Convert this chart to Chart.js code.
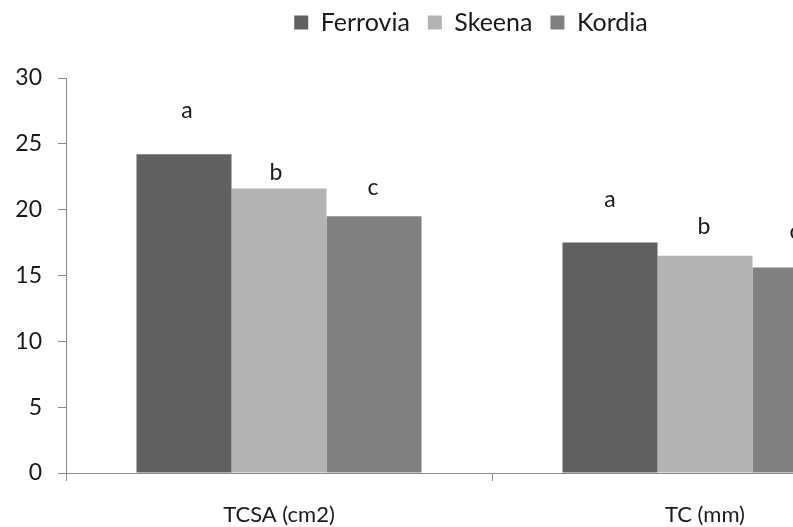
<!DOCTYPE html>
<html>
<head>
<meta charset="utf-8">
<script src="https://cdn.jsdelivr.net/npm/chart.js@4"></script>
<style>
html,body{margin:0;padding:0;background:#fff;overflow:hidden;width:793px;height:527px;}
#c{position:absolute;left:0;top:0;}
</style>
</head>
<body>
<canvas id="c" width="940" height="527"></canvas>
<script>
const categories = ['TCSA (cm2)', 'TC (mm)'];
const seriesNames = ['Ferrovia', 'Skeena', 'Kordia'];
const ferrovia = [24.2, 17.5];
const skeena = [21.6, 16.5];
const kordia = [19.5, 15.6];
const letters = [['a', 'a'], ['b', 'b'], ['c', 'c']];
const letterValues = [[27.5, 20.8], [22.8, 18.7], [21.7, 18.3]];
const yTicks = [0, 5, 10, 15, 20, 25, 30];

const FONT = 'Lato';
const TEXT = '#1a1a1a';
const AXIS = '#8a8a8a';

const letterPlugin = {
  id: 'letters',
  afterDatasetsDraw(chart, args, opts) {
    const ctx = chart.ctx;
    const y = chart.scales.y;
    ctx.save();
    ctx.font = '23px ' + FONT;
    ctx.fillStyle = TEXT;
    ctx.textAlign = 'center';
    ctx.textBaseline = 'middle';
    chart.data.datasets.forEach((ds, i) => {
      const meta = chart.getDatasetMeta(i);
      meta.data.forEach((bar, j) => {
        ctx.fillText(letters[i][j], bar.x + opts.dx[i][j], y.getPixelForValue(letterValues[i][j]));
      });
    });
    ctx.restore();
  }
};

const legendSpace = {
  id: 'legendSpace',
  beforeInit(chart) {
    const fit = chart.legend.fit;
    chart.legend.fit = function () {
      fit.bind(chart.legend)();
      this.height = 86;
    };
  },
  afterLayout(chart) {
    chart.legend.left = 24;
  }
};

new Chart(document.getElementById('c'), {
  type: 'bar',
  data: {
    labels: categories,
    datasets: [
      { label: seriesNames[0], data: ferrovia, backgroundColor: '#606060' },
      { label: seriesNames[1], data: skeena, backgroundColor: '#b3b3b3' },
      { label: seriesNames[2], data: kordia, backgroundColor: '#808080' }
    ]
  },
  options: {
    responsive: false,
    animation: false,
    layout: { padding: { left: 0, right: 22, top: -8, bottom: 0 } },
    datasets: { bar: { barPercentage: 1, categoryPercentage: 0.669 } },
    plugins: {
      tooltip: { enabled: false },
      letters: { dx: [[3, 0], [-3, -1], [-1, -5]] },
      legend: {
        position: 'top',
        labels: {
          font: { family: FONT, size: 25 },
          color: TEXT,
          boxWidth: 14,
          boxHeight: 14,
          padding: 18
        }
      }
    },
    scales: {
      x: {
        afterFit(s) { s.height = 54; },
        grid: { display: true, drawOnChartArea: false, drawTicks: true, tickLength: 8, color: AXIS, offset: true },
        border: { color: AXIS, width: 1 },
        ticks: { font: { family: FONT, size: 22 }, color: TEXT, padding: 21 }
      },
      y: {
        min: 0, max: 30,
        afterBuildTicks(s) { s.ticks = yTicks.map(v => ({ value: v })); },
        afterFit(s) { s.width = 66; },
        grid: { display: true, drawOnChartArea: false, drawTicks: true, tickLength: 8, color: AXIS },
        border: { color: AXIS, width: 1 },
        ticks: { font: { family: FONT, size: 23 }, color: TEXT, padding: 16 }
      }
    }
  },
  plugins: [letterPlugin, legendSpace]
});
</script>
</body>
</html>
